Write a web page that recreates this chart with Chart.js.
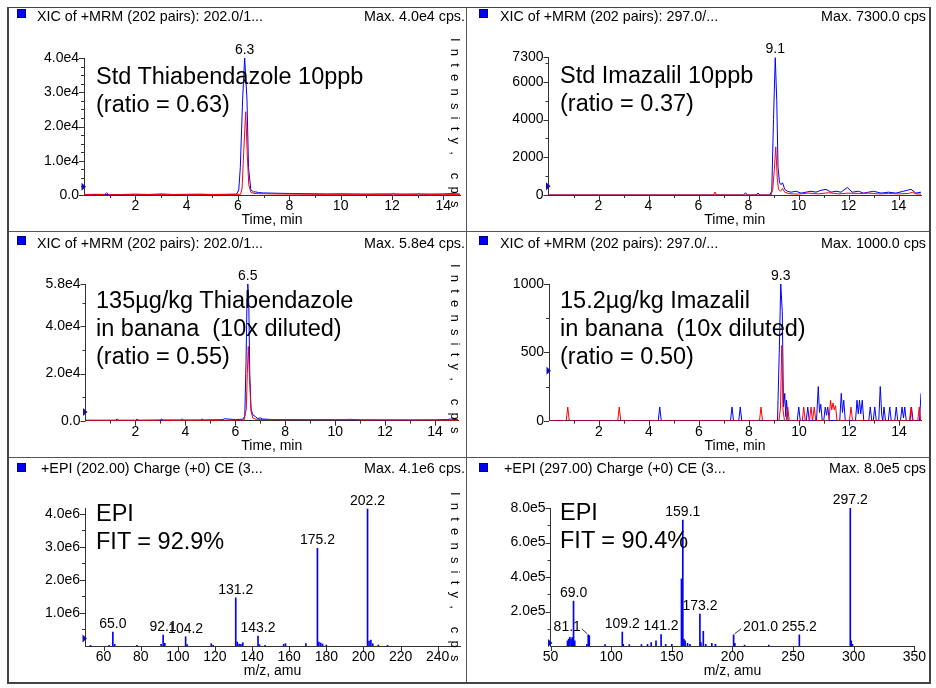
<!DOCTYPE html>
<html>
<head>
<meta charset="utf-8">
<title>Thiabendazole / Imazalil - MRM and EPI</title>
<script src="https://cdn.jsdelivr.net/npm/chart.js@4.4.1/dist/chart.umd.min.js"></script>
<style>
  html, body { margin: 0; padding: 0; background: #fff; }
  body { width: 936px; height: 688px; position: relative; overflow: hidden;
         font-family: "Liberation Sans", Arial, sans-serif; color: #000; }
  canvas { position: absolute; }
  .frame { position: absolute; left: 7px; top: 7px; width: 920px; height: 674px; border: 2px solid #444; border-top-width: 1px; }
  .vline { position: absolute; left: 466px; top: 8px; width: 1px; height: 674px; background: #555; }
  .hline { position: absolute; left: 9px; width: 920px; height: 1px; background: #555; }
  .sq { position: absolute; width: 9px; height: 9px; background: #0000ff; border: 1px solid #000080; box-sizing: border-box; }
  .head { position: absolute; font-size: 14.3px; line-height: 16px; white-space: nowrap; }
  .note { position: absolute; font-size: 23.5px; line-height: 28px; white-space: pre; }
</style>
</head>
<body>
<div class="frame"></div>
<div class="vline"></div>
<div class="hline" style="top:231px"></div>
<div class="hline" style="top:457px"></div>

<canvas id="tl_chart"></canvas>
<canvas id="tr_chart"></canvas>
<canvas id="ml_chart"></canvas>
<canvas id="mr_chart"></canvas>
<canvas id="bl_chart"></canvas>
<canvas id="br_chart"></canvas>

<div class="sq" style="left:17px;top:9px"></div>
<div class="head" style="left:37px;top:8px">XIC of +MRM (202 pairs): 202.0/1...</div>
<div class="head" style="right:471px;top:8px">Max. 4.0e4 cps.</div>
<div class="sq" style="left:479px;top:9px"></div>
<div class="head" style="left:500px;top:8px">XIC of +MRM (202 pairs): 297.0/...</div>
<div class="head" style="right:10px;top:8px">Max. 7300.0 cps</div>

<div class="sq" style="left:17px;top:236px"></div>
<div class="head" style="left:37px;top:235px">XIC of +MRM (202 pairs): 202.0/1...</div>
<div class="head" style="right:471px;top:235px">Max. 5.8e4 cps.</div>
<div class="sq" style="left:479px;top:236px"></div>
<div class="head" style="left:500px;top:235px">XIC of +MRM (202 pairs): 297.0/...</div>
<div class="head" style="right:10px;top:235px">Max. 1000.0 cps</div>

<div class="sq" style="left:17px;top:463px"></div>
<div class="head" style="left:41px;top:460px">+EPI (202.00) Charge (+0) CE (3...</div>
<div class="head" style="right:471px;top:460px">Max. 4.1e6 cps.</div>
<div class="sq" style="left:479px;top:463px"></div>
<div class="head" style="left:504px;top:460px">+EPI (297.00) Charge (+0) CE (3...</div>
<div class="head" style="right:10px;top:460px">Max. 8.0e5 cps</div>

<div class="note" style="left:96px;top:62px">Std Thiabendazole 10ppb
(ratio = 0.63)</div>
<div class="note" style="left:560px;top:61px">Std Imazalil 10ppb
(ratio = 0.37)</div>
<div class="note" style="left:96px;top:286px">135µg/kg Thiabendazole
in banana  (10x diluted)
(ratio = 0.55)</div>
<div class="note" style="left:560px;top:286px">15.2µg/kg Imazalil
in banana  (10x diluted)
(ratio = 0.50)</div>
<div class="note" style="left:96px;top:499px">EPI
FIT = 92.9%</div>
<div class="note" style="left:560px;top:498px">EPI
FIT = 90.4%</div>

<script>
'use strict';

// retention time ticks shared by the four chromatograms
var timeTicks = [2, 4, 6, 8, 10, 12, 14]
var timeLabels = ['2', '4', '6', '8', '10', '12', '14']

// Std Thiabendazole 10ppb
var tbzStdBlueT = [0, 0.5, 1.0, 1.5, 2.0, 2.5, 3.0, 3.5, 4.0, 4.5, 5.0, 5.5,
    5.9, 5.96, 6.03, 6.09, 6.18, 6.26, 6.35, 6.41, 6.5, 6.6, 6.7, 6.8,
    7.0, 7.3, 7.6, 8.0, 8.5, 9.0, 9.5, 10.0, 10.5, 11.0, 11.5, 12.0, 12.5, 13.0, 13.5, 14.0, 14.3, 14.65]
var tbzStdBlueI = [150, 200, 150, 150, 250, 150, 300, 150, 200, 250, 150, 200,
    250, 400, 1500, 8000, 28000, 40000, 28000, 8000, 1500, 900, 900, 700,
    600, 550, 500, 450, 400, 350, 300, 350, 300, 250, 300, 300, 250, 300, 250, 300, 400, 250]
var tbzStdRedT = [0, 0.8, 0.88, 0.96, 2.0, 4.0, 5.5, 6.1, 6.16, 6.22, 6.3, 6.36, 6.42, 6.5, 6.6, 6.8,
    7.5, 9.0, 10.5, 12.0, 12.06, 12.12, 13.0, 13.06, 13.12, 14.65]
var tbzStdRedI = [100, 100, 700, 100, 100, 100, 150, 200, 2000, 12000, 24300, 12000, 3000, 800, 500, 400,
    300, 200, 200, 200, 500, 200, 200, 450, 200, 200]
var tbzStdYTicks = [0, 10000, 20000, 30000, 40000]
var tbzStdYLabels = ['0.0', '1.0e4', '2.0e4', '3.0e4', '4.0e4']
var tbzStdPeaks = [6.26]
var tbzStdMarker = 2400

// Std Imazalil 10ppb
var imzStdBlueT = [0, 2.0, 4.0, 6.0, 7.8, 7.88, 7.96, 8.3, 8.38, 8.46,
    8.85, 8.93, 9.0, 9.07, 9.13, 9.18, 9.24, 9.3, 9.36, 9.45,
    9.55, 9.7, 9.9, 10.1, 10.3, 10.5, 10.7, 10.9, 11.1, 11.3,
    11.5, 11.7, 11.95, 12.15, 12.4, 12.6, 12.8, 13.0, 13.3, 13.6,
    13.9, 14.2, 14.35, 14.5, 14.7, 14.9]
var imzStdBlueI = [0, 0, 0, 0, 0, 120, 0, 0, 100, 0,
    0, 200, 4000, 7300, 5000, 1500, 650, 550, 650, 300,
    200, 150, 200, 100, 150, 200, 150, 250, 300, 150,
    200, 150, 400, 150, 200, 100, 150, 200, 100, 150,
    100, 200, 250, 300, 100, 150]
var imzStdRedT = [0, 3.0, 6.0, 6.6, 6.66, 6.72, 8.9, 8.97, 9.03, 9.09,
    9.15, 9.2, 9.28, 9.36, 9.45, 9.55, 9.7, 10.0, 10.4, 10.8,
    11.2, 11.6, 12.0, 12.4, 12.8, 13.2, 13.6, 14.0, 14.4, 14.56, 14.7, 14.9]
var imzStdRedI = [0, 0, 0, 0, 160, 0, 0, 300, 1300, 2550,
    900, 300, 200, 350, 150, 100, 60, 50, 100, 60,
    120, 60, 100, 80, 100, 60, 80, 60, 80, 140, 60, 50]
var imzStdYTicks = [0, 2000, 4000, 6000, 7300]
var imzStdYLabels = ['0', '2000', '4000', '6000', '7300']
var imzStdPeaks = [9.07]
var imzStdMarker = 460

// 135ug/kg Thiabendazole in banana
var tbzBanBlueT = [0, 0.6, 1.2, 1.27, 1.34, 2.0, 2.07, 2.14, 3.0, 3.8,
    3.87, 3.94, 4.6, 4.67, 4.74, 5.1, 5.5, 5.55, 6.0, 6.3,
    6.38, 6.43, 6.47, 6.5, 6.54, 6.58, 6.63, 6.7, 6.8, 6.9,
    7.0, 7.1, 7.5, 8.0, 8.5, 9.0, 10.0, 11.0, 12.0, 13.0,
    14.0, 14.5, 14.6, 14.92]
var tbzBanBlueI = [200, 200, 200, 700, 200, 200, 600, 200, 300, 300,
    700, 300, 300, 700, 300, 400, 400, 800, 500, 600,
    2000, 25000, 52000, 58000, 50000, 20000, 5000, 2500, 1800, 900,
    1200, 700, 500, 450, 450, 400, 400, 350, 300, 300,
    350, 500, 700, 400]
var tbzBanRedT = [0, 2.96, 3.04, 3.12, 5.4, 5.47, 5.54, 6.35, 6.44, 6.48,
    6.52, 6.57, 6.63, 6.7, 6.8, 7.0, 8.0, 9.0, 10.0, 10.5,
    10.6, 11.0, 12.0, 13.0, 14.0, 14.92]
var tbzBanRedI = [100, 100, 700, 100, 100, 600, 100, 300, 5000, 20000,
    31500, 18000, 4000, 1200, 700, 500, 400, 400, 400, 500,
    600, 300, 300, 250, 250, 200]
var tbzBanYTicks = [0, 20000, 40000, 58000]
var tbzBanYLabels = ['0.0', '2.0e4', '4.0e4', '5.8e4']
var tbzBanPeaks = [6.5]
var tbzBanMarker = 3700

// 15.2ug/kg Imazalil in banana
var imzBanBlueT = [0, 4.37, 4.43, 4.49, 7.26, 7.32, 7.38, 7.59, 7.65, 7.71,
    9.14, 9.21, 9.27, 9.33, 9.38, 9.43, 9.47, 9.5, 9.56, 9.93,
    9.99, 10.05, 10.29, 10.35, 10.41, 10.7, 10.77, 10.82, 10.87, 10.93,
    10.99, 11.05, 11.1, 11.15, 11.21, 11.63, 11.69, 11.74, 11.79, 11.85,
    12.26, 12.32, 12.37, 12.42, 12.47, 12.53, 12.59, 12.79, 12.85, 12.91,
    12.97, 13.03, 13.09, 13.19, 13.25, 13.31, 13.35, 13.4, 13.46, 13.57,
    13.63, 13.69, 13.83, 13.89, 13.95, 14.06, 14.12, 14.18, 14.23, 14.29,
    14.44, 14.5, 14.56, 14.82, 14.88]
var imzBanBlueI = [0, 0, 100, 0, 0, 100, 0, 0, 100, 0,
    0, 500, 1000, 800, 100, 200, 30, 150, 0, 0,
    100, 0, 0, 100, 0, 0, 250, 60, 120, 0,
    0, 100, 40, 100, 0, 0, 200, 60, 150, 0,
    0, 150, 50, 150, 50, 150, 0, 0, 100, 0,
    0, 100, 0, 0, 250, 40, 0, 100, 0, 0,
    100, 0, 0, 100, 0, 0, 100, 20, 100, 0,
    0, 100, 0, 0, 200]
var imzBanRedT = [0, 0.69, 0.75, 0.81, 2.75, 2.81, 2.87, 8.42, 8.48, 8.54,
    9.2, 9.26, 9.31, 9.36, 9.42, 9.49, 9.55, 9.61, 10.13, 10.19,
    10.25, 10.42, 10.48, 10.54, 10.61, 10.67, 11.2, 11.26, 11.31, 11.36,
    11.41, 11.46, 11.52, 12.02, 12.08, 12.14, 14.42, 14.48, 14.54, 14.75,
    14.81, 14.87]
var imzBanRedI = [0, 0, 100, 0, 0, 100, 0, 0, 100, 0,
    0, 100, 550, 80, 0, 0, 100, 0, 0, 100,
    0, 0, 100, 0, 100, 0, 0, 150, 80, 130,
    80, 110, 0, 0, 100, 0, 0, 100, 0, 0,
    100, 0]
var imzBanYTicks = [0, 500, 1000]
var imzBanYLabels = ['0', '500', '1000']
var imzBanPeaks = [9.27]
var imzBanMarker = 366

// EPI spectrum, precursor 202.00 (thiabendazole)
var tbzEpiMz = [53, 63, 65.0, 66, 78, 91, 92.1, 93, 104.2, 105,
    118, 119, 131.2, 132, 133, 134, 135, 143.2, 144, 147,
    157, 158, 169, 175.2, 176, 177, 178, 180, 202.2, 203,
    204, 205, 208, 213]
var tbzEpiInt = [20000, 20000, 420000, 50000, 20000, 50000, 330000, 80000, 280000, 40000,
    70000, 20000, 1460000, 120000, 60000, 50000, 100000, 300000, 40000, 20000,
    50000, 70000, 70000, 2960000, 120000, 90000, 60000, 30000, 4150000, 150000,
    180000, 70000, 30000, 20000]
var tbzEpiXTicks = [60, 80, 100, 120, 140, 160, 180, 200, 220, 240]
var tbzEpiXLabels = ['60', '80', '100', '120', '140', '160', '180', '200', '220', '240']
var tbzEpiYTicks = [1000000, 2000000, 3000000, 4000000]
var tbzEpiYLabels = ['1.0e6', '2.0e6', '3.0e6', '4.0e6']
var tbzEpiPeaks = [65.0, 92.1, 104.2, 131.2, 143.2, 175.2, 202.2]
var tbzEpiMarker = 230000

// EPI spectrum, precursor 297.00 (imazalil)
var imzEpiMz = [64, 65, 66, 67, 68, 69.0, 70, 80, 81.1, 82,
    95, 109.2, 110, 115, 125, 130, 133, 137, 141.2, 145,
    150, 158, 159.1, 160, 161, 163, 165, 173.2, 174, 176,
    178, 183, 186, 201.0, 202, 210, 230, 255.2, 297.2, 298,
    299]
var imzEpiInt = [30000, 40000, 50000, 40000, 50000, 260000, 30000, 10000, 65000, 60000,
    8000, 80000, 10000, 8000, 8000, 10000, 20000, 30000, 66000, 10000,
    10000, 390000, 730000, 40000, 30000, 15000, 10000, 185000, 20000, 85000,
    10000, 15000, 10000, 65000, 15000, 5000, 5000, 65000, 800000, 30000,
    10000]
var imzEpiXTicks = [50, 100, 150, 200, 250, 300, 350]
var imzEpiXLabels = ['50', '100', '150', '200', '250', '300', '350']
var imzEpiYTicks = [200000, 400000, 600000, 800000]
var imzEpiYLabels = ['2.0e5', '4.0e5', '6.0e5', '8.0e5']
var imzEpiPeaks = [69.0, 81.1, 109.2, 141.2, 159.1, 173.2, 201.0, 255.2, 297.2]
var imzEpiMarker = 17000

var BLUE = '#0000ff'
var RED = '#ff0000'
var Y_W = 60
var X_H = 34

// panel geometry: box = canvas rect on the page, plot = wanted chart area (both [l, t, r, b])
var panels = [
    {id: 'tl', kind: 'line', box: [9, 8, 466, 231], plot: [84, 58, 460, 195],
     xMin: 0, xMax: 14.65, xTicks: timeTicks, xLabels: timeLabels, xMinor: 1, xTitle: 'Time, min',
     yMax: 40000, yTicks: tbzStdYTicks, yLabels: tbzStdYLabels, yMinor: 2500,
     series: [[tbzStdRedT, tbzStdRedI, RED], [tbzStdBlueT, tbzStdBlueI, BLUE]],
     peaks: tbzStdPeaks, marker: tbzStdMarker, side: 38},
    {id: 'tr', kind: 'line', box: [467, 8, 929, 231], plot: [548.5, 57.4, 921, 195],
     xMin: 0, xMax: 14.9, xTicks: timeTicks, xLabels: timeLabels, xMinor: 1, xTitle: 'Time, min',
     yMax: 7300, yTicks: imzStdYTicks, yLabels: imzStdYLabels, yMinor: 1000,
     series: [[imzStdRedT, imzStdRedI, RED], [imzStdBlueT, imzStdBlueI, BLUE]],
     peaks: imzStdPeaks, marker: imzStdMarker},
    {id: 'ml', kind: 'line', box: [9, 232, 466, 457], plot: [85.5, 284, 458, 420.7],
     xMin: 0, xMax: 14.92, xTicks: timeTicks, xLabels: timeLabels, xMinor: 1, xTitle: 'Time, min',
     yMax: 58000, yTicks: tbzBanYTicks, yLabels: tbzBanYLabels, yMinor: 10000,
     series: [[tbzBanRedT, tbzBanRedI, RED], [tbzBanBlueT, tbzBanBlueI, BLUE]],
     peaks: tbzBanPeaks, marker: tbzBanMarker, side: 264},
    {id: 'mr', kind: 'line', box: [467, 232, 929, 457], plot: [549, 284, 921, 420.7],
     xMin: 0, xMax: 14.88, xTicks: timeTicks, xLabels: timeLabels, xMinor: 1, xTitle: 'Time, min',
     yMax: 1000, yTicks: imzBanYTicks, yLabels: imzBanYLabels, yMinor: 250,
     series: [[imzBanRedT, imzBanRedI, RED], [imzBanBlueT, imzBanBlueI, BLUE]],
     peaks: imzBanPeaks, marker: imzBanMarker},
    {id: 'bl', kind: 'bar', box: [9, 458, 466, 682], plot: [85, 508, 460, 646],
     xMin: 50, xMax: 252, xTicks: tbzEpiXTicks, xLabels: tbzEpiXLabels, xMinor: 0, xTitle: 'm/z, amu',
     yMax: 4180000, yTicks: tbzEpiYTicks, yLabels: tbzEpiYLabels, yMinor: 500000,
     series: [[tbzEpiMz, tbzEpiInt, BLUE]],
     peaks: tbzEpiPeaks, marker: tbzEpiMarker, side: 492},
    {id: 'br', kind: 'bar', box: [467, 458, 929, 682], plot: [550.5, 508, 916, 646],
     xMin: 50, xMax: 350, xTicks: imzEpiXTicks, xLabels: imzEpiXLabels, xMinor: 0, xTitle: 'm/z, amu',
     yMax: 800000, yTicks: imzEpiYTicks, yLabels: imzEpiYLabels, yMinor: 100000,
     series: [[imzEpiMz, imzEpiInt, BLUE]],
     peaks: imzEpiPeaks, marker: imzEpiMarker,
     shift: {'81.1': -21, '201.0': 27}}
]

var panelById = {}
var FONT = '"Liberation Sans", Arial, sans-serif'

Chart.defaults.font.family = FONT
Chart.defaults.font.size = 14
Chart.defaults.color = '#000'

function isMajor(list, v) {
    for (let i = 0; i < list.length; i++) {
        if (Math.abs(list[i] - v) < 1e-6) return true
    }
    return false
}

// ticks, threshold marker, peak labels and the spaced side title
var panelMarks = {
    id: 'panelMarks',
    afterDraw(chart) {
        let p = panelById[chart.canvas.id]
        let ctx = chart.ctx
        let area = chart.chartArea
        let xs = chart.scales.x
        let ys = chart.scales.y

        ctx.save()
        ctx.strokeStyle = '#333'
        ctx.lineWidth = 1
        ctx.beginPath()
        p.xTicks.forEach(v => {
            let px = Math.round(xs.getPixelForValue(v)) + 0.5
            ctx.moveTo(px, area.bottom)
            ctx.lineTo(px, area.bottom + 5)
        })
        if (p.xMinor) {
            for (let v = Math.ceil(p.xMin / p.xMinor) * p.xMinor; v <= p.xMax; v += p.xMinor) {
                if (isMajor(p.xTicks, v) || v == 0) continue
                let px = Math.round(xs.getPixelForValue(v)) + 0.5
                ctx.moveTo(px, area.bottom)
                ctx.lineTo(px, area.bottom + 3)
            }
        }
        p.yTicks.forEach(v => {
            let py = Math.round(ys.getPixelForValue(v)) + 0.5
            ctx.moveTo(area.left, py)
            ctx.lineTo(area.left - 5, py)
        })
        for (let v = p.yMinor; v <= p.yMax; v += p.yMinor) {
            if (isMajor(p.yTicks, v)) continue
            let py = Math.round(ys.getPixelForValue(v)) + 0.5
            ctx.moveTo(area.left, py)
            ctx.lineTo(area.left - 3, py)
        }
        ctx.stroke()

        // threshold marker
        let my = ys.getPixelForValue(p.marker)
        ctx.fillStyle = '#1010b0'
        ctx.beginPath()
        ctx.moveTo(area.left - 2.5, my - 4)
        ctx.lineTo(area.left + 2, my)
        ctx.lineTo(area.left - 2.5, my + 4)
        ctx.closePath()
        ctx.fill()

        // peak labels
        let src = p.series[p.series.length - 1]
        ctx.font = '14px ' + FONT
        ctx.fillStyle = '#000'
        ctx.textAlign = 'center'
        ctx.textBaseline = 'middle'
        p.peaks.forEach(v => {
            let idx = src[0].indexOf(v)
            if (idx < 0) return
            let px = xs.getPixelForValue(v)
            let py = ys.getPixelForValue(src[1][idx])
            let text = v.toFixed(1)
            let dx = (p.shift && p.shift[text]) || 0
            ctx.fillText(text, px + dx, py - 8)
            if (dx) {
                let half = ctx.measureText(text).width / 2
                let ex = dx < 0 ? px + dx + half + 1 : px + dx - half - 2
                ctx.beginPath()
                ctx.moveTo(ex, py - 6)
                ctx.lineTo(px + (dx < 0 ? -1 : 1), py - 1)
                ctx.stroke()
            }
        })

        // "Intensity, cps" running down the right edge
        if (p.side) {
            let text = 'Intensity, cps'
            ctx.font = '13px ' + FONT
            ctx.textAlign = 'left'
            let x = 455 - p.box[0]
            let y = p.side - p.box[1]
            for (let i = 0; i < text.length; i++) {
                let ch = text[i]
                ctx.save()
                ctx.translate(x, y)
                ctx.rotate(Math.PI / 2)
                ctx.fillText(ch, 0, 0)
                ctx.restore()
                y += ctx.measureText(ch).width + 7.2
            }
        }
        ctx.restore()
    }
}

function buildPanel(p) {
    let canvas = document.getElementById(p.id + '_chart')
    let w = p.box[2] - p.box[0]
    let h = p.box[3] - p.box[1]
    canvas.style.left = p.box[0] + 'px'
    canvas.style.top = p.box[1] + 'px'
    canvas.width = w
    canvas.height = h
    canvas.style.width = w + 'px'
    canvas.style.height = h + 'px'
    panelById[canvas.id] = p

    let padding = {
        left: p.plot[0] - p.box[0] - Y_W,
        top: p.plot[1] - p.box[1],
        right: p.box[2] - p.plot[2],
        bottom: p.box[3] - p.plot[3] - X_H
    }

    let datasets = p.series.map(s => ({
        data: s[0].map((t, i) => ({x: t, y: s[1][i]})),
        borderColor: s[2],
        backgroundColor: s[2],
        borderWidth: p.kind == 'bar' ? 0 : 1,
        pointRadius: 0,
        tension: 0,
        barThickness: 1
    }))

    let config = {
        type: p.kind,
        data: {datasets: datasets},
        options: {
            responsive: false,
            animation: false,
            events: [],
            layout: {padding: padding},
            plugins: {legend: {display: false}, tooltip: {enabled: false}},
            scales: {
                x: {
                    type: 'linear', min: p.xMin, max: p.xMax, offset: false,
                    grid: {display: false, drawTicks: false},
                    border: {display: true, color: '#333', width: 1},
                    ticks: {autoSkip: false, maxRotation: 0, padding: 3,
                            callback: (v, i) => p.xLabels[i]},
                    title: {display: true, text: p.xTitle, padding: 0},
                    afterBuildTicks: scale => { scale.ticks = p.xTicks.map(v => ({value: v})) },
                    afterFit: scale => { scale.height = X_H }
                },
                y: {
                    type: 'linear', min: 0, max: p.yMax,
                    grid: {display: false, drawTicks: false},
                    border: {display: true, color: '#333', width: 1},
                    ticks: {autoSkip: false, padding: 5,
                            callback: (v, i) => p.yLabels[i]},
                    afterBuildTicks: scale => { scale.ticks = p.yTicks.map(v => ({value: v})) },
                    afterFit: scale => { scale.width = Y_W }
                }
            }
        },
        plugins: [panelMarks]
    }
    new Chart(canvas, config)
}

panels.forEach(buildPanel)
</script>
</body>
</html>
